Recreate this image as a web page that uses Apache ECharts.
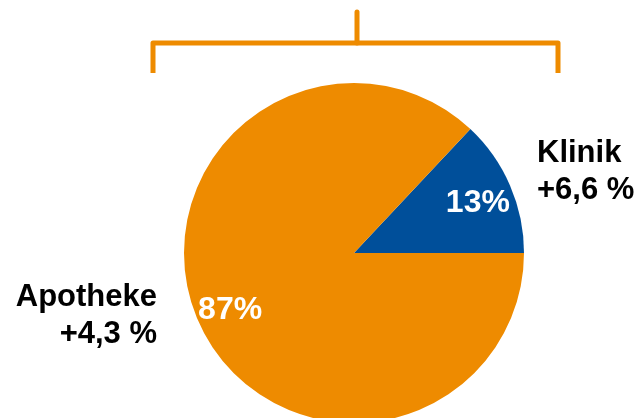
<!DOCTYPE html>
<html>
<head>
<meta charset="utf-8">
<script src="https://cdn.jsdelivr.net/npm/echarts@6/dist/echarts.min.js"></script>
<style>
  html, body { margin: 0; padding: 0; background: #fff; }
  #chart { width: 639px; height: 418px; }
</style>
</head>
<body>
<div id="chart"></div>
<script>
var names = ["Klinik", "Apotheke"];
var shares = [13, 87];
var growth = ["+6,6 %", "+4,3 %"];
var colors = ["#004F9A", "#EE8B00"];

window.onload = function () {
  var myChart = echarts.init(document.getElementById("chart"));

  var data = [];
  for (var i = 0; i < names.length; i++) {
    data.push({ name: names[i], value: shares[i], growth: growth[i], itemStyle: { color: colors[i] } });
  }

  var font = "'Liberation Sans', Arial, sans-serif";

  var option = {
    animation: false,
    graphic: [
      {
        // Klammer oben
        type: "polyline",
        shape: { points: [[153, 73], [153, 43], [558, 43], [558, 73]] },
        style: { stroke: "#EE8B00", lineWidth: 5, fill: null, lineJoin: "round" },
      },
      {
        type: "line",
        shape: { x1: 357, y1: 12, x2: 357, y2: 43 },
        style: { stroke: "#EE8B00", lineWidth: 5, lineCap: "round" },
      },
    ],
    series: [
      {
        type: "pie",
        center: [354, 253],
        radius: [0, 170],
        startAngle: 46.8,
        clockwise: true,
        silent: true,
        data: data,
        labelLine: { show: false },
        label: {
          show: true,
          position: "outside",
          overflow: "none",
          fontFamily: font,
          fontWeight: "bold",
          fontSize: 31,
          lineHeight: 37,
          color: "#000",
          formatter: function (p) {
            return p.name + "\n" + p.data.growth;
          },
        },
        labelLayout: function (p) {
          if (p.dataIndex === 0) {
            return { x: 537, y: 172, align: "left", verticalAlign: "middle" };
          }
          return { x: 157, y: 316, align: "right", verticalAlign: "middle" };
        },
      },
      {
        // unsichtbare Hilfsserie für die Prozentwerte
        type: "pie",
        center: [354, 257],
        radius: [0, 264],
        startAngle: 46.8,
        clockwise: true,
        silent: true,
        data: data.map(function (d) {
          return { name: d.name, value: d.value, itemStyle: { color: "transparent" } };
        }),
        labelLine: { show: false },
        label: {
          show: true,
          position: "inside",
          overflow: "none",
          fontFamily: font,
          fontWeight: "bold",
          fontSize: 32,
          color: "#fff",
          formatter: "{c}%",
        },
      },
    ],
  };
  myChart.setOption(option);
};
</script>
</body>
</html>
